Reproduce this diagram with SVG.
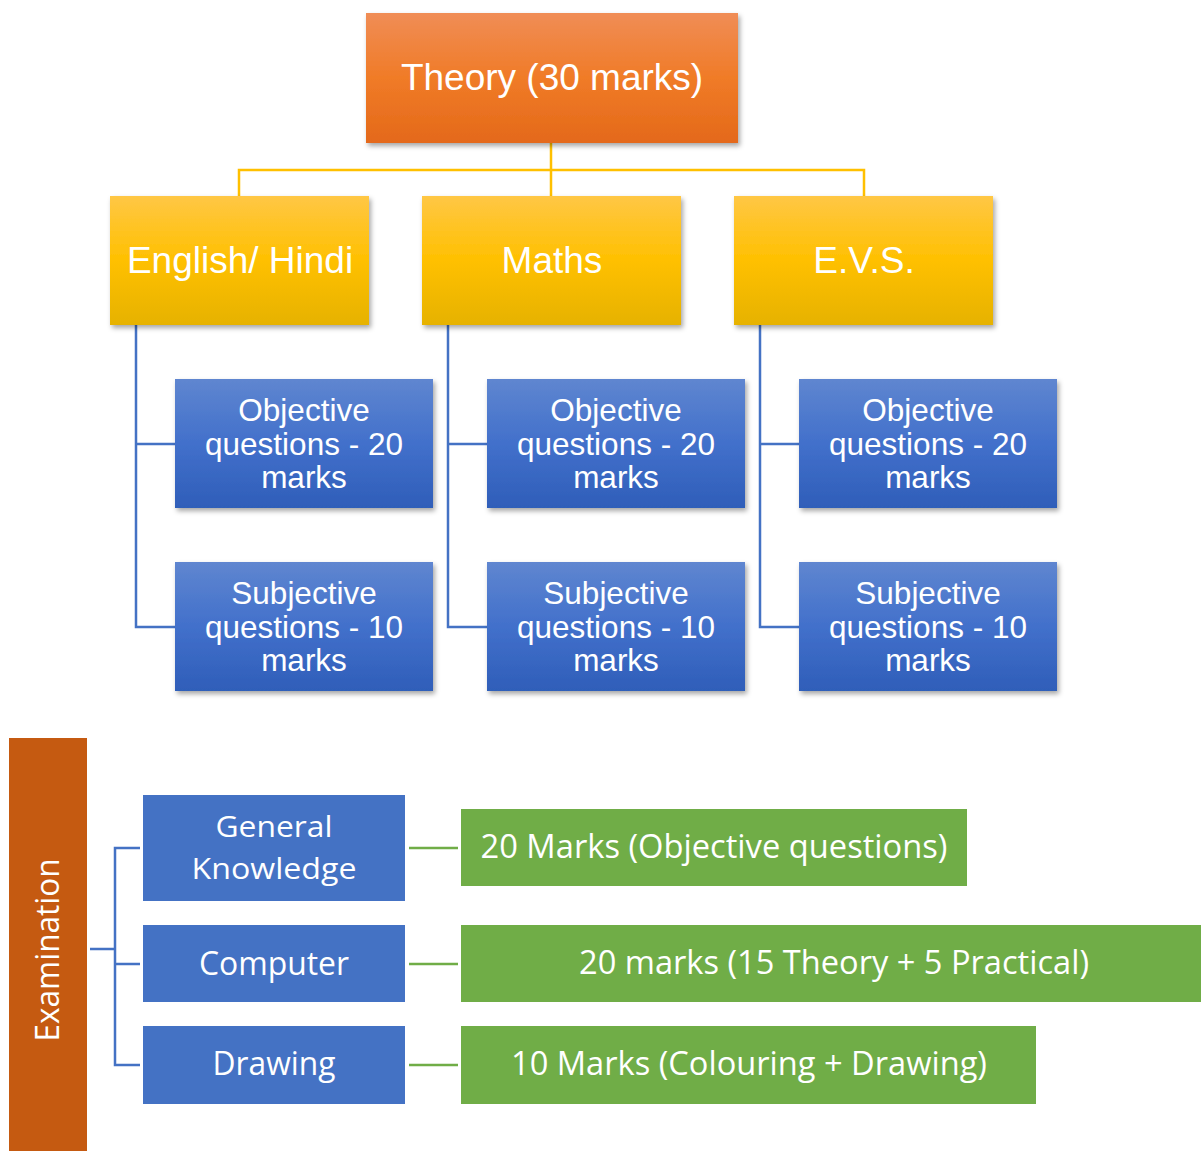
<svg xmlns="http://www.w3.org/2000/svg" width="1201" height="1151" viewBox="0 0 1201 1151">
<defs>
<linearGradient id="gOrange" x1="0" y1="0" x2="0" y2="1"><stop offset="0" stop-color="#F08D56"/><stop offset="0.5" stop-color="#F07B27"/><stop offset="1" stop-color="#E4691A"/></linearGradient>
<linearGradient id="gYellow" x1="0" y1="0" x2="0" y2="1"><stop offset="0" stop-color="#FFC745"/><stop offset="0.5" stop-color="#FFC000"/><stop offset="1" stop-color="#E6B200"/></linearGradient>
<linearGradient id="gBlue" x1="0" y1="0" x2="0" y2="1"><stop offset="0" stop-color="#5F86D0"/><stop offset="0.5" stop-color="#4270CB"/><stop offset="1" stop-color="#2F5EB9"/></linearGradient>
<filter id="sh" x="-10%" y="-10%" width="125%" height="130%"><feDropShadow dx="2" dy="3" stdDeviation="2.5" flood-color="#000" flood-opacity="0.35"/></filter>
</defs>
<style>
.t1{font-family:"Liberation Sans",Arial,sans-serif;fill:#fff;text-anchor:middle}
.big{font-size:37px}
.mid{font-size:31.5px}
.t2{font-family:"Open Sans","Liberation Sans",sans-serif;fill:#fff;text-anchor:middle;font-size:32.5px}
.sm{font-size:30px}
.yc{stroke:#FFC000;stroke-width:2.5;fill:none}
.bc{stroke:#4472C4;stroke-width:2.5;fill:none}
.gc{stroke:#70AD47;stroke-width:2.5;fill:none}
</style>
<g id="connectors">
<path class="yc" d="M551 143V196M239 196V170H864V196"/>
<path class="bc" d="M136 325V627H175M136 444H175"/>
<path class="bc" d="M448 325V627H487M448 444H487"/>
<path class="bc" d="M760 325V627H799M760 444H799"/>
<path class="bc" d="M90 949H115M140 848H115V1065H140M115 964H140"/>
<path class="gc" d="M409 848H458M409 964H458M409 1065H458"/>
</g>
<g id="theory"><rect x="366" y="13" width="372" height="130" fill="url(#gOrange)" filter="url(#sh)"/><text class="t1 big" x="552" y="90">Theory (30 marks)</text></g>
<g id="english"><rect x="110" y="196" width="259" height="129" fill="url(#gYellow)" filter="url(#sh)"/><text class="t1 big" x="240" y="273">English/ Hindi</text></g>
<g id="maths"><rect x="422" y="196" width="259" height="129" fill="url(#gYellow)" filter="url(#sh)"/><text class="t1 big" x="552" y="273">Maths</text></g>
<g id="evs"><rect x="734" y="196" width="259" height="129" fill="url(#gYellow)" filter="url(#sh)"/><text class="t1 big" x="864" y="273">E.V.S.</text></g>
<g id="eng-obj"><rect x="175" y="379" width="258" height="129" fill="url(#gBlue)" filter="url(#sh)"/><text class="t1 mid" x="304" y="421">Objective<tspan x="304" y="455">questions - 20</tspan><tspan x="304" y="488">marks</tspan></text></g>
<g id="eng-sub"><rect x="175" y="562" width="258" height="129" fill="url(#gBlue)" filter="url(#sh)"/><text class="t1 mid" x="304" y="604">Subjective<tspan x="304" y="638">questions - 10</tspan><tspan x="304" y="671">marks</tspan></text></g>
<g id="maths-obj"><rect x="487" y="379" width="258" height="129" fill="url(#gBlue)" filter="url(#sh)"/><text class="t1 mid" x="616" y="421">Objective<tspan x="616" y="455">questions - 20</tspan><tspan x="616" y="488">marks</tspan></text></g>
<g id="maths-sub"><rect x="487" y="562" width="258" height="129" fill="url(#gBlue)" filter="url(#sh)"/><text class="t1 mid" x="616" y="604">Subjective<tspan x="616" y="638">questions - 10</tspan><tspan x="616" y="671">marks</tspan></text></g>
<g id="evs-obj"><rect x="799" y="379" width="258" height="129" fill="url(#gBlue)" filter="url(#sh)"/><text class="t1 mid" x="928" y="421">Objective<tspan x="928" y="455">questions - 20</tspan><tspan x="928" y="488">marks</tspan></text></g>
<g id="evs-sub"><rect x="799" y="562" width="258" height="129" fill="url(#gBlue)" filter="url(#sh)"/><text class="t1 mid" x="928" y="604">Subjective<tspan x="928" y="638">questions - 10</tspan><tspan x="928" y="671">marks</tspan></text></g>
<g id="examination"><rect x="9" y="738" width="78" height="413" fill="#C55A11"/><text class="t2" transform="translate(59,950) rotate(-90)" x="0" y="0" textLength="183" lengthAdjust="spacingAndGlyphs">Examination</text></g>
<g id="gk"><rect x="143" y="795" width="262" height="106" fill="#4472C4"/><text class="t2 sm" x="274" y="837" textLength="117" lengthAdjust="spacingAndGlyphs">General</text><text class="t2 sm" x="274" y="879" textLength="165" lengthAdjust="spacingAndGlyphs">Knowledge</text></g>
<g id="computer"><rect x="143" y="925" width="262" height="77" fill="#4472C4"/><text class="t2" x="274" y="975" textLength="150" lengthAdjust="spacingAndGlyphs">Computer</text></g>
<g id="drawing"><rect x="143" y="1026" width="262" height="78" fill="#4472C4"/><text class="t2" x="274" y="1075" textLength="123" lengthAdjust="spacingAndGlyphs">Drawing</text></g>
<g id="gk-marks"><rect x="461" y="809" width="506" height="77" fill="#70AD47"/><text class="t2" x="714" y="858" textLength="467" lengthAdjust="spacingAndGlyphs">20 Marks (Objective questions)</text></g>
<g id="computer-marks"><rect x="461" y="925" width="740" height="77" fill="#70AD47"/><text class="t2" x="834" y="974" textLength="510" lengthAdjust="spacingAndGlyphs">20 marks (15 Theory + 5 Practical)</text></g>
<g id="drawing-marks"><rect x="461" y="1026" width="575" height="78" fill="#70AD47"/><text class="t2" x="749" y="1075" textLength="476" lengthAdjust="spacingAndGlyphs">10 Marks (Colouring + Drawing)</text></g>
</svg>
